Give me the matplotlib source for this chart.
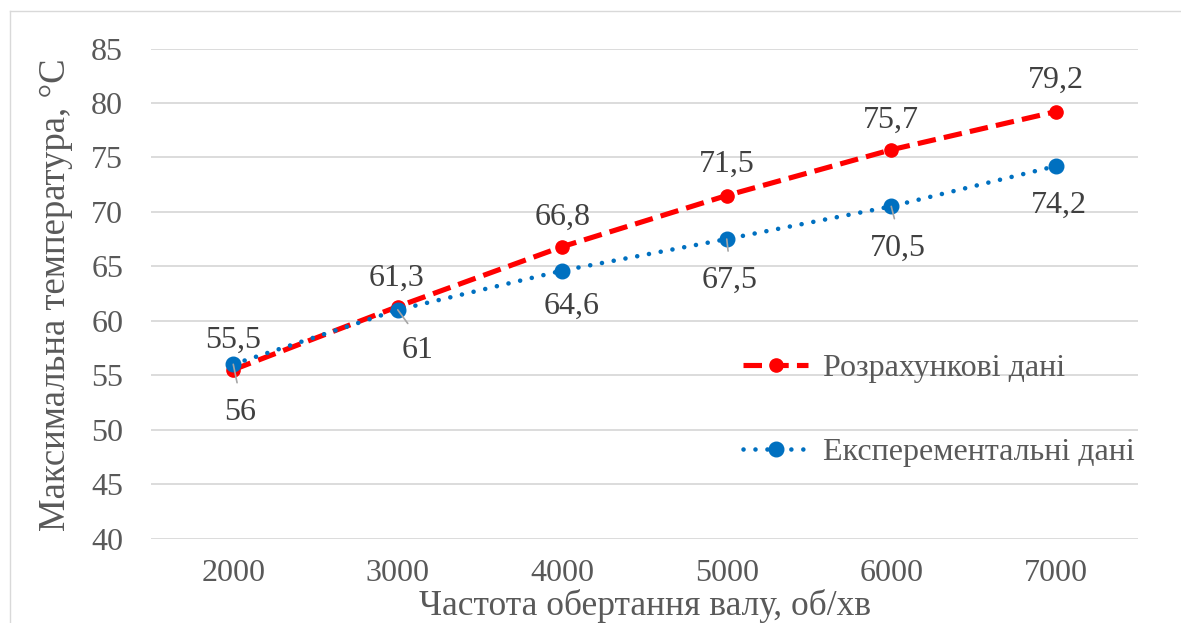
import matplotlib
matplotlib.use("Agg")
import matplotlib.pyplot as plt
from matplotlib.lines import Line2D
import numpy as np

plt.rcParams['font.family'] = ['Liberation Serif', 'DejaVu Serif']

# data
rpm = [2000, 3000, 4000, 5000, 6000, 7000]
calc = [55.5, 61.3, 66.8, 71.5, 75.7, 79.2]
exper = [56, 61, 64.6, 67.5, 70.5, 74.2]
calc_name = "Розрахункові дані"
exper_name = "Експерементальні дані"
yticks = [40, 45, 50, 55, 60, 65, 70, 75, 80, 85]

# label offsets in points (dx, dy) and whether a leader line is drawn
calc_offsets = [(0, 24), (-1, 23), (0, 24), (0, 25), (0, 24), (0, 25)]
exper_offsets = [(5, -32), (14, -27), (6.5, -23), (2.2, -27.5), (5, -27.5), (2.2, -26)]
exper_leader = [True, True, False, True, True, False]

W, H = 1181, 623
fig = plt.figure(figsize=(W / 100, H / 100), dpi=100)
ax = fig.add_axes([151 / W, 1 - 538.5 / H, (1138 - 151) / W, (538.5 - 48.5) / H])

x = np.arange(len(rpm))
red = '#FF0000'
blue = '#0070C0'
txt = '#595959'
lbl = '#404040'

ax.plot(x, calc, color=red, lw=3.7, linestyle=(0, (3.6, 1.6)), marker='o',
        markersize=9.5, label=calc_name, zorder=2)
ax.plot(x, exper, color=blue, lw=3.3, linestyle=(0, (0.01, 2.6)),
        dash_capstyle='round', marker='o', markersize=10.5, label=exper_name, zorder=2)

def fmt(v):
    return f"{v:g}".replace('.', ',')

for i, v in enumerate(calc):
    ax.annotate(fmt(v), (x[i], v), xytext=calc_offsets[i], textcoords='offset points',
                ha='center', va='center_baseline', fontsize=23, color=lbl)

for i, v in enumerate(exper):
    props = None
    if exper_leader[i]:
        props = dict(arrowstyle='-', color='#A6A6A6', lw=1.2, shrinkA=9, shrinkB=0,
                     relpos=(0.5, 1.0))
    ax.annotate(fmt(v), (x[i], v), xytext=exper_offsets[i], textcoords='offset points',
                ha='center', va='center_baseline', fontsize=23, color=lbl,
                arrowprops=props)

ax.set_xlim(-0.5, len(rpm) - 0.5)
ax.set_ylim(40, 85)
ax.set_xticks(x)
ax.set_xticklabels([str(r) for r in rpm])
ax.set_yticks(yticks)
ax.tick_params(axis='both', length=0, labelsize=23, labelcolor=txt)
ax.tick_params(axis='y', pad=20)
ax.tick_params(axis='x', pad=15)
ax.grid(axis='y', color='#D9D9D9', lw=1.3)
ax.set_axisbelow(True)
for s in ax.spines.values():
    s.set_visible(False)

fig.text(56 / W, 1 - 295 / H, "Максимальна температура, °С", rotation=90,
         ha='center', va='center', fontsize=26.5, color=txt)
fig.text(645 / W, 1 - 615 / H, "Частота обертання валу, об/хв",
         ha='center', va='baseline', fontsize=25.5, color=txt)

ax.legend(loc='center left', bbox_to_anchor=(743 / W, 1 - 410.5 / H),
          bbox_transform=fig.transFigure, frameon=False, borderpad=0,
          borderaxespad=0, handlelength=2.05, handletextpad=0.44,
          labelspacing=1.7, fontsize=23, labelcolor=txt)

# outer chart border (left and top edges visible)
fig.add_artist(Line2D([10 / W, 10 / W], [0, 1 - 11 / H], transform=fig.transFigure,
                      color='#D9D9D9', lw=1))
fig.add_artist(Line2D([10 / W, 1], [1 - 11 / H, 1 - 11 / H], transform=fig.transFigure,
                      color='#D9D9D9', lw=1))

fig.savefig("out.png", dpi=100)
